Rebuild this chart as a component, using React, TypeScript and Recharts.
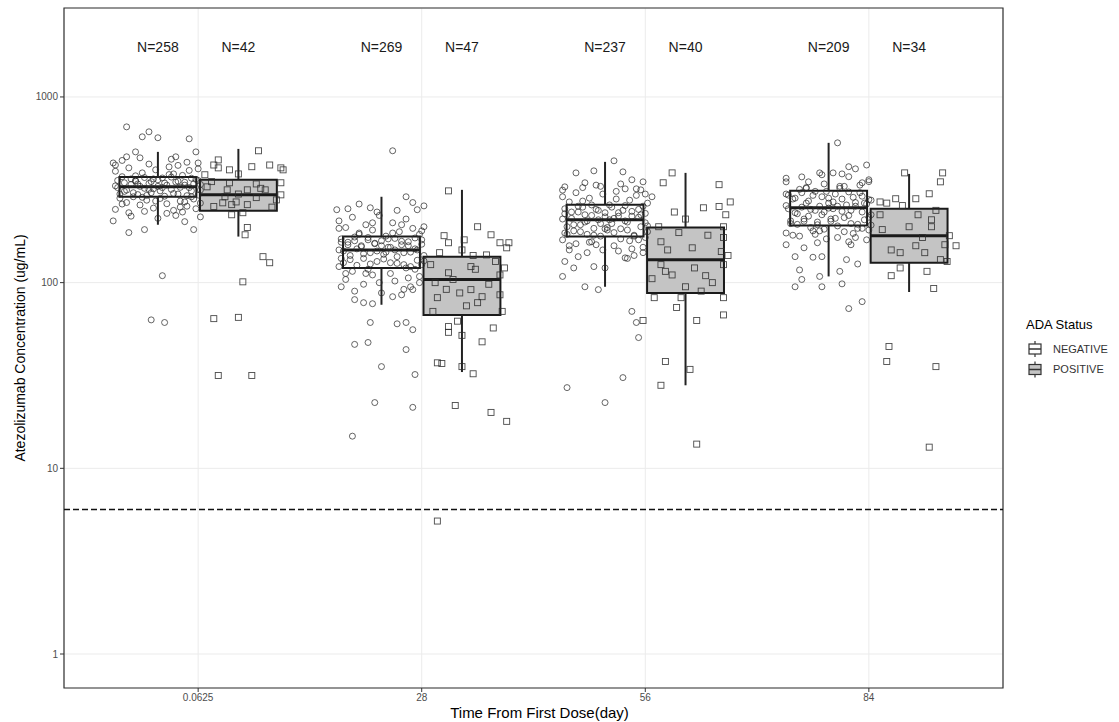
import React from 'react';
import {
  ComposedChart, XAxis, YAxis, CartesianGrid, Scatter, ReferenceArea, ReferenceLine, Legend,
} from 'recharts';

// ---------- data ----------
const categories = ['0.0625', '28', '56', '84'];
const yTicks = [1, 10, 100, 1000];
const negN = [258, 269, 237, 209];
const posN = [42, 47, 40, 34];
const lloq = 6;

// box statistics (ug/mL): [min, q1, median, q3, max]
const negStats = [
  [205, 290, 328, 371, 506],
  [76, 120, 150, 177, 290],
  [95, 177, 218, 263, 447],
  [108, 203, 253, 312, 566],
];
const posStats = [
  [177, 244, 297, 358, 525],
  [33, 67, 104, 138, 316],
  [28, 88, 133, 198, 390],
  [89, 128, 179, 250, 385],
];

// jittered observations: [jitter offset, concentration]
const negObs1 = [
  [-0.14, 690], [-0.04, 649], [-0.07, 610], [0.0, 603], [0.14, 595], [-0.10, 506], [-0.14, 476], [-0.20, 441],
  [0.08, 476], [0.17, 506], [0.18, 441], [-0.20, 215], [-0.13, 186], [-0.06, 193], [0.12, 213], [0.16, 193],
  [0.19, 226], [0.02, 109], [-0.03, 63], [0.03, 61],
  [-0.19, 398], [-0.16, 372], [-0.13, 415], [-0.10, 352], [-0.07, 390], [-0.04, 342], [-0.01, 405], [0.02, 366],
  [0.05, 420], [0.08, 348], [0.11, 378], [0.14, 402], [0.17, 360], [0.19, 338], [-0.18, 325], [-0.15, 310],
  [-0.12, 338], [-0.09, 298], [-0.06, 322], [-0.03, 305], [0.0, 330], [0.03, 292], [0.06, 318], [0.09, 300],
  [0.12, 335], [0.15, 312], [0.18, 296], [-0.17, 285], [-0.14, 270], [-0.11, 290], [-0.08, 262], [-0.05, 278],
  [-0.02, 252], [0.01, 284], [0.04, 266], [0.07, 245], [0.10, 275], [0.13, 258], [0.16, 282], [0.19, 268],
  [-0.19, 248], [-0.13, 238], [-0.06, 242], [0.04, 236], [0.11, 240], [0.17, 250], [-0.16, 455], [-0.08, 470],
  [0.06, 462], [0.13, 445], [-0.12, 228], [0.0, 222], [0.08, 230], [-0.02, 362], [0.07, 385], [-0.10, 355],
  [0.14, 325], [-0.04, 318],
  [-0.18, 355], [-0.15, 345], [-0.12, 362], [-0.09, 340], [-0.06, 368], [-0.03, 350], [0.0, 358], [0.03, 344],
  [0.06, 370], [0.09, 352], [0.12, 347], [0.15, 365], [0.18, 355], [-0.17, 300], [-0.14, 315], [-0.11, 305],
  [-0.08, 330], [-0.05, 295], [-0.02, 320], [0.01, 312], [0.04, 335], [0.07, 302], [0.10, 326], [0.13, 294],
  [0.16, 340], [0.19, 315], [-0.19, 332], [-0.10, 376], [0.05, 382], [0.15, 290], [-0.07, 288], [0.02, 325],
  [-0.16, 265], [0.12, 272], [-0.01, 275], [0.18, 410], [-0.19, 430], [0.09, 428], [-0.04, 435], [0.10, 255],
];
const posObs1 = [
  [-0.11, 430], [-0.09, 415], [-0.04, 405], [0.0, 385], [0.06, 421], [0.09, 513], [0.19, 415], [0.20, 405],
  [-0.14, 328], [0.04, 316], [0.10, 322], [0.12, 316], [0.19, 345], [0.19, 297], [-0.07, 269], [-0.03, 263],
  [-0.01, 272], [0.04, 263], [-0.03, 232], [0.02, 238], [0.04, 198], [0.03, 181], [0.11, 138], [0.14, 128],
  [0.02, 101], [0.0, 65], [-0.09, 31.6], [0.06, 31.6], [-0.11, 64], [-0.09, 458], [0.14, 430], [-0.15, 381],
  [-0.05, 316], [0.08, 287], [0.17, 279], [-0.11, 257], [-0.04, 345],
  [0.0, 300], [0.08, 340], [-0.06, 290], [0.15, 255], [-0.12, 350],
];
const negObs2 = [
  [0.05, 513], [0.11, 290], [0.19, 259], [0.16, 247], [-0.05, 253], [-0.20, 247], [-0.15, 250],
  [-0.18, 95], [-0.12, 81], [-0.08, 78], [-0.04, 77], [0.05, 84], [0.14, 91.7], [0.17, 100],
  [-0.05, 61], [0.07, 60], [0.11, 61], [0.14, 55.8], [-0.12, 46.5], [-0.06, 47.6], [0.11, 43.6],
  [0.0, 35.3], [0.15, 32], [-0.13, 14.9], [-0.03, 22.6], [0.14, 21.3],
  [-0.19, 215], [-0.16, 198], [-0.13, 225], [-0.10, 185], [-0.07, 205], [-0.04, 192], [-0.01, 230], [0.02, 178],
  [0.05, 210], [0.08, 188], [0.11, 220], [0.14, 196], [0.17, 182], [0.19, 200], [-0.18, 172], [-0.15, 165],
  [-0.12, 176], [-0.09, 158], [-0.06, 170], [-0.03, 162], [0.0, 168], [0.03, 155], [0.06, 173], [0.09, 160],
  [0.12, 166], [0.15, 152], [0.18, 170], [-0.17, 148], [-0.14, 140], [-0.11, 152], [-0.08, 135], [-0.05, 145],
  [-0.02, 130], [0.01, 142], [0.04, 128], [0.07, 138], [0.10, 125], [0.13, 146], [0.16, 132], [0.19, 140],
  [-0.19, 122], [-0.13, 115], [-0.06, 118], [0.04, 112], [0.11, 120], [0.17, 108], [-0.16, 104], [-0.08, 98],
  [0.06, 102], [0.13, 95], [-0.12, 90], [0.0, 88], [0.09, 86], [-0.02, 240], [0.07, 245], [-0.10, 265],
  [0.14, 270], [-0.04, 110], [0.18, 125], [-0.18, 135],
  [-0.18, 165], [-0.15, 160], [-0.12, 168], [-0.09, 156], [-0.06, 175], [-0.03, 163], [0.0, 158], [0.03, 172],
  [0.06, 150], [0.09, 167], [0.12, 158], [0.15, 174], [0.18, 161], [-0.17, 128], [-0.14, 133], [-0.11, 124],
  [-0.08, 143], [-0.05, 126], [-0.02, 148], [0.01, 134], [0.04, 155], [0.07, 127], [0.10, 145], [0.13, 122],
  [0.16, 150], [0.19, 131], [-0.19, 150], [-0.10, 182], [0.05, 185], [0.15, 118], [-0.07, 112], [0.02, 146],
  [-0.16, 112], [0.12, 106], [-0.01, 100], [0.18, 190], [-0.19, 196], [0.09, 205], [-0.04, 210], [0.10, 92],
];
const posObs2 = [
  [-0.06, 312], [0.07, 200], [0.13, 181], [0.17, 164], [0.21, 164], [0.20, 154], [0.01, 170], [-0.08, 179],
  [-0.06, 164], [0.04, 122], [-0.06, 113], [0.17, 110], [-0.01, 88], [0.09, 84], [0.07, 78], [-0.11, 83],
  [0.17, 86], [-0.06, 58], [-0.06, 54], [0.0, 52], [-0.11, 37], [-0.09, 36.7], [0.0, 35.3], [0.05, 32.3],
  [-0.03, 21.8], [0.13, 20], [0.20, 17.9], [-0.11, 5.2], [-0.14, 125], [0.11, 141], [-0.04, 104], [0.04, 91.7],
  [0.15, 130], [-0.12, 100], [0.02, 75], [0.18, 70], [-0.10, 145], [0.06, 118], [0.12, 98], [-0.02, 62],
  [0.09, 48], [-0.13, 70], [0.19, 120], [0.0, 150], [-0.07, 92], [0.14, 57], [0.05, 140],
];
const negObs3 = [
  [0.04, 453], [-0.13, 390], [-0.05, 400], [0.08, 395], [0.12, 358], [0.17, 349], [-0.09, 345], [0.16, 316],
  [0.21, 290], [-0.18, 328], [-0.19, 108], [-0.14, 120], [-0.09, 95], [-0.03, 91.7], [-0.05, 122], [0.0, 120],
  [0.09, 136], [0.17, 145], [-0.18, 130], [-0.12, 138], [0.12, 70], [0.14, 61], [0.15, 50.6], [0.08, 30.8],
  [-0.17, 27.2], [0.0, 22.6],
  [-0.19, 290], [-0.16, 272], [-0.13, 305], [-0.10, 255], [-0.07, 285], [-0.04, 248], [-0.01, 300], [0.02, 262],
  [0.05, 310], [0.08, 245], [0.11, 278], [0.14, 295], [0.17, 258], [0.19, 268], [-0.18, 235], [-0.15, 222],
  [-0.12, 240], [-0.09, 212], [-0.06, 230], [-0.03, 218], [0.0, 238], [0.03, 208], [0.06, 228], [0.09, 215],
  [0.12, 242], [0.15, 225], [0.18, 210], [-0.17, 200], [-0.14, 190], [-0.11, 205], [-0.08, 182], [-0.05, 196],
  [-0.02, 178], [0.01, 198], [0.04, 186], [0.07, 172], [0.10, 192], [0.13, 180], [0.16, 200], [0.19, 188],
  [-0.19, 170], [-0.13, 162], [-0.06, 166], [0.04, 158], [0.11, 168], [0.17, 155], [-0.16, 150], [-0.08, 145],
  [0.06, 148], [0.13, 140], [-0.02, 330], [0.07, 340], [-0.10, 325], [0.14, 320], [-0.04, 160], [0.18, 175],
  [-0.18, 185], [0.0, 195],
  [-0.18, 250], [-0.15, 240], [-0.12, 258], [-0.09, 232], [-0.06, 262], [-0.03, 245], [0.0, 226], [0.03, 255],
  [0.06, 238], [0.09, 260], [0.12, 228], [0.15, 248], [0.18, 236], [-0.17, 182], [-0.14, 205], [-0.11, 188],
  [-0.08, 215], [-0.05, 180], [-0.02, 208], [0.01, 192], [0.04, 222], [0.07, 195], [0.10, 212], [0.13, 178],
  [0.16, 232], [0.19, 202], [-0.19, 220], [-0.10, 275], [0.05, 282], [0.15, 170], [-0.07, 165], [0.02, 218],
  [-0.16, 158], [0.12, 152], [-0.01, 150], [0.18, 300], [-0.19, 315], [0.09, 320], [-0.04, 335], [0.10, 135],
];
const posObs3 = [
  [-0.06, 390], [-0.10, 345], [0.15, 337], [0.20, 272], [0.08, 253], [0.15, 257], [0.18, 232], [0.17, 200],
  [-0.03, 186], [0.17, 175], [-0.11, 166], [0.03, 154], [0.16, 147], [0.17, 125], [-0.11, 125], [-0.09, 115],
  [-0.06, 110], [0.09, 109], [0.0, 95], [-0.14, 83], [-0.02, 83], [0.17, 83], [-0.04, 73.5], [0.05, 62.5],
  [0.17, 67], [-0.19, 62.5], [-0.09, 37.6], [-0.11, 28], [0.02, 34.1], [0.05, 13.5],
  [0.10, 180], [-0.08, 150], [0.04, 120], [-0.12, 200], [0.12, 100], [0.0, 220], [0.19, 140], [-0.15, 105],
  [0.07, 90], [-0.05, 240],
];
const negObs4 = [
  [0.04, 566], [0.09, 421], [0.12, 410], [0.17, 430], [-0.03, 381], [0.02, 390], [0.06, 385], [-0.12, 371],
  [-0.19, 349], [-0.09, 349], [0.18, 358], [0.15, 345], [-0.19, 160], [-0.15, 138], [-0.11, 154], [-0.05, 164],
  [-0.07, 137], [-0.03, 138], [-0.13, 117], [-0.12, 104], [-0.15, 95], [-0.03, 95], [-0.04, 108], [0.05, 115],
  [0.06, 98.5], [0.08, 133], [0.13, 126], [0.09, 72.5], [0.15, 79], [0.09, 166],
  [-0.19, 300], [-0.16, 282], [-0.13, 318], [-0.10, 268], [-0.07, 295], [-0.04, 258], [-0.01, 310], [0.02, 272],
  [0.05, 322], [0.08, 262], [0.11, 288], [0.14, 305], [0.17, 265], [0.19, 278], [-0.18, 250], [-0.15, 238],
  [-0.12, 255], [-0.09, 228], [-0.06, 245], [-0.03, 232], [0.0, 252], [0.03, 222], [0.06, 242], [0.09, 230],
  [0.12, 258], [0.15, 240], [0.18, 225], [-0.17, 215], [-0.14, 206], [-0.11, 220], [-0.08, 198], [-0.05, 212],
  [-0.02, 194], [0.01, 214], [0.04, 202], [0.07, 188], [0.10, 208], [0.13, 196], [0.16, 218], [0.19, 204],
  [-0.19, 185], [-0.13, 178], [-0.06, 182], [0.04, 175], [0.11, 184], [0.17, 170], [-0.02, 340], [0.07, 330],
  [-0.10, 325], [0.14, 335], [-0.04, 190], [0.18, 192], [0.0, 285],
  [-0.18, 296], [-0.15, 285], [-0.12, 305], [-0.09, 275], [-0.06, 310], [-0.03, 290], [0.0, 268], [0.03, 300],
  [0.06, 282], [0.09, 308], [0.12, 270], [0.15, 292], [0.18, 280], [-0.17, 208], [-0.14, 235], [-0.11, 214],
  [-0.08, 248], [-0.05, 205], [-0.02, 240], [0.01, 220], [0.04, 258], [0.07, 224], [0.10, 245], [0.13, 206],
  [0.16, 268], [0.19, 232], [-0.19, 260], [-0.10, 322], [0.05, 330], [0.15, 196], [-0.07, 190], [0.02, 250],
  [-0.16, 180], [0.12, 175], [-0.01, 172], [0.18, 350], [-0.19, 365], [0.09, 372], [-0.04, 390], [0.10, 160],
];
const posObs4 = [
  [-0.02, 390], [0.15, 390], [0.14, 349], [0.09, 301], [0.03, 283], [-0.06, 283], [-0.13, 272], [-0.10, 268],
  [-0.13, 232], [0.10, 218], [0.10, 200], [0.18, 179], [0.03, 158], [0.16, 160], [0.21, 158], [-0.04, 145],
  [0.07, 145], [0.14, 133], [-0.04, 120], [-0.08, 109], [0.11, 93], [-0.09, 45.3], [-0.10, 37.6], [0.12, 35.3],
  [0.09, 13], [0.04, 232], [-0.12, 193],
  [0.0, 200], [0.06, 175], [-0.08, 150], [0.12, 245], [0.17, 130], [-0.03, 260], [0.08, 115],
];

const negObs = [negObs1, negObs2, negObs3, negObs4];
const posObs = [posObs1, posObs2, posObs3, posObs4];

// ---------- layout constants ----------
const FONT = '"Liberation Sans", Arial, sans-serif';
const DODGE = 0.18;
const HALF = 0.172;
const GAP = 0.008;
const X_DOMAIN = [0.4, 4.6];
const Y_DOMAIN = [0.656, 3013];
const LABEL_Y = 1850;

const negPoints = negObs.flatMap((g, i) => g.map(([dx, v]) => ({ x: i + 1 - DODGE + dx, y: v })));
const posPoints = posObs.flatMap((g, i) => g.map(([dx, v]) => ({ x: i + 1 + DODGE + dx, y: v })));
const nLabels = [
  ...negN.map((n, i) => ({ x: i + 1 - DODGE, y: LABEL_Y, t: `N=${n}` })),
  ...posN.map((n, i) => ({ x: i + 1 + DODGE, y: LABEL_Y, t: `N=${n}` })),
];

const NegShape = (p: any) => (
  <circle cx={p.cx} cy={p.cy} r={3} fill="none" stroke="#2a2a2a" strokeWidth={0.9} strokeOpacity={0.8} />
);
const PosShape = (p: any) => (
  <rect x={p.cx - 3} y={p.cy - 3} width={6} height={6} fill="none" stroke="#2a2a2a" strokeWidth={0.9} strokeOpacity={0.85} />
);
const LabelShape = (p: any) => (
  <text x={p.cx} y={p.cy} dy="0.35em" textAnchor="middle" fontSize={14} fontFamily={FONT} fill="#1a1a1a">
    {p.payload.t}
  </text>
);

function boxElements(stats: number[][], side: number, fill: string, key: string) {
  const out: any[] = [];
  stats.forEach(([mn, q1, md, q3, mx], i) => {
    const c = i + 1 + side * DODGE;
    const x1 = side < 0 ? c - HALF : i + 1 + GAP;
    const x2 = side < 0 ? i + 1 - GAP : c + HALF;
    const xc = (x1 + x2) / 2;
    out.push(
      <ReferenceLine key={`${key}wu${i}`} segment={[{ x: xc, y: q3 }, { x: xc, y: mx }]} stroke="#222" strokeWidth={2} />,
      <ReferenceLine key={`${key}wl${i}`} segment={[{ x: xc, y: mn }, { x: xc, y: q1 }]} stroke="#222" strokeWidth={2} />,
      <ReferenceArea key={`${key}b${i}`} x1={x1} x2={x2} y1={q1} y2={q3} fill={fill} fillOpacity={1} stroke="#1a1a1a" strokeWidth={2} />,
      <ReferenceLine key={`${key}m${i}`} segment={[{ x: x1, y: md }, { x: x2, y: md }]} stroke="#1a1a1a" strokeWidth={3} />,
    );
  });
  return out;
}

const LegendBox = () => (
  <svg width={100} height={75} style={{ display: 'block', fontFamily: FONT }}>
    <text x={8} y={24} fontSize={13} fill="#000">ADA Status</text>
    {['NEGATIVE', 'POSITIVE'].map((lab, i) => {
      const cy = 44 + i * 20.5;
      return (
        <g key={lab}>
          <line x1={17} x2={17} y1={cy - 8} y2={cy + 8} stroke="#333" strokeWidth={1.2} />
          <rect x={11} y={cy - 5} width={12} height={10} fill={i === 0 ? '#fff' : '#c4c4c4'} stroke="#333" strokeWidth={1.2} />
          <line x1={11} x2={23} y1={cy} y2={cy} stroke="#333" strokeWidth={1.5} />
          <text x={35} y={cy} dy="0.35em" fontSize={11} fill="#333">{lab}</text>
        </g>
      );
    })}
  </svg>
);

export default function App() {
  return (
    <div style={{ position: 'absolute', left: 0, top: 0, width: 1119, height: 722, background: '#fff' }}>
      <ComposedChart width={1119} height={722} margin={{ top: 8, right: 116, bottom: 0, left: 0 }}>
        <CartesianGrid stroke="#ebebeb" strokeWidth={1} />
        <XAxis
          type="number"
          dataKey="x"
          domain={X_DOMAIN}
          ticks={[1, 2, 3, 4]}
          tickFormatter={(v: number) => categories[v - 1]}
          allowDataOverflow
          height={34}
          axisLine={false}
          tickLine={{ stroke: '#333' }}
          tickSize={4}
          tickMargin={2}
          tick={{ fontSize: 10, fill: '#4d4d4d', fontFamily: FONT }}
          label={{ value: 'Time From First Dose(day)', position: 'insideBottom', offset: 4, dx: 6, fontSize: 15, fill: '#000', fontFamily: FONT }}
        />
        <YAxis
          type="number"
          dataKey="y"
          scale="log"
          domain={Y_DOMAIN}
          ticks={yTicks}
          allowDataOverflow
          width={64}
          axisLine={false}
          tickLine={{ stroke: '#333' }}
          tickSize={4}
          tickMargin={2}
          tick={{ fontSize: 10, fill: '#4d4d4d', fontFamily: FONT }}
          label={{ value: 'Atezolizumab Concentration (ug/mL)', angle: -90, position: 'insideLeft', offset: 20, fontSize: 14, fill: '#000', fontFamily: FONT, style: { textAnchor: 'middle' } }}
        />
        {boxElements(negStats, -1, '#ffffff', 'n')}
        {boxElements(posStats, 1, '#c4c4c4', 'p')}
        <ReferenceLine y={lloq} stroke="#111" strokeWidth={1.5} strokeDasharray="6 3" />
        <Scatter data={negPoints} shape={NegShape} isAnimationActive={false} legendType="none" />
        <Scatter data={posPoints} shape={PosShape} isAnimationActive={false} legendType="none" />
        <Scatter data={nLabels} shape={LabelShape} isAnimationActive={false} legendType="none" />
        <ReferenceArea x1={X_DOMAIN[0]} x2={X_DOMAIN[1]} y1={Y_DOMAIN[0]} y2={Y_DOMAIN[1]} fill="none" stroke="#333" strokeWidth={1.2} ifOverflow="visible" />
        <Legend
          layout="horizontal"
          verticalAlign="middle"
          align="center"
          content={() => <LegendBox />}
          wrapperStyle={{ position: 'absolute', left: 1018, top: 305, width: 100, height: 75 }}
        />
      </ComposedChart>
    </div>
  );
}
